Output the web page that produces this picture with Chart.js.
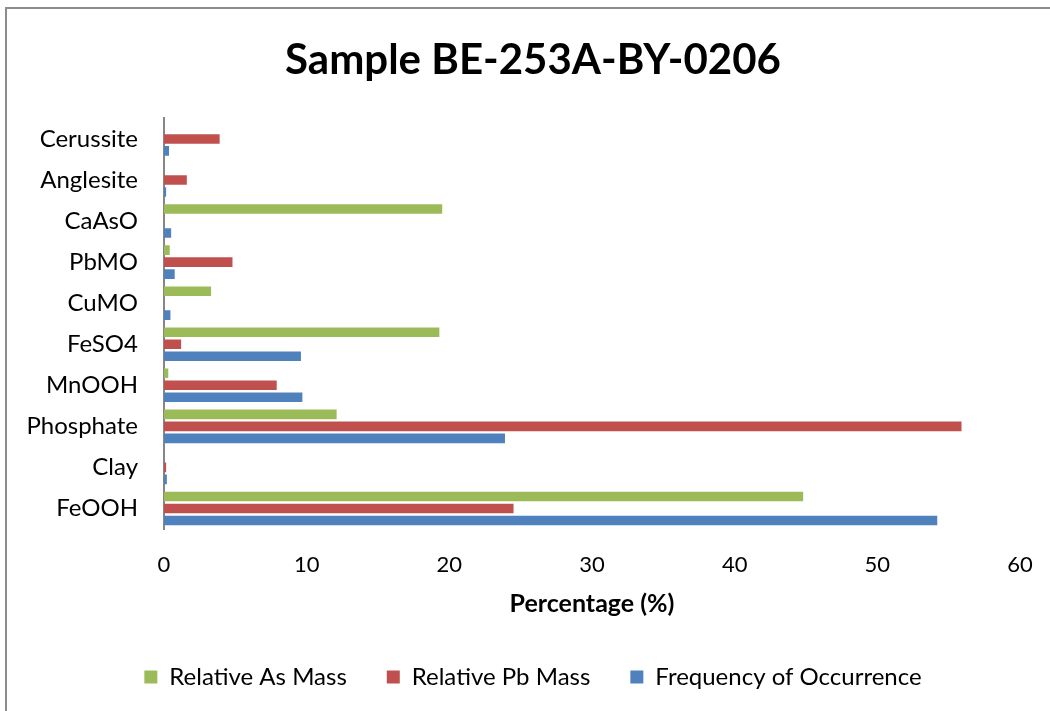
<!DOCTYPE html>
<html>
<head>
<meta charset="utf-8">
<script src="https://cdn.jsdelivr.net/npm/chart.js@4.4.1/dist/chart.umd.min.js"></script>
<style>
  html, body { margin: 0; padding: 0; background: #ffffff; }
  #wrap { width: 1050px; height: 711px; position: relative; }
</style>
</head>
<body>
<div id="wrap"><canvas id="chart" width="1050" height="711"></canvas></div>
<script>
// Mineral phases, listed top to bottom as they appear on the axis
const categories = ['Cerussite', 'Anglesite', 'CaAsO', 'PbMO', 'CuMO', 'FeSO4', 'MnOOH', 'Phosphate', 'Clay', 'FeOOH'];

// Percentages per phase
const relativeAsMass = [0, 0, 19.5, 0.4, 3.3, 19.3, 0.3, 12.1, 0, 44.8];
const relativePbMass = [3.9, 1.6, 0, 4.8, 0, 1.2, 7.9, 55.9, 0.15, 24.5];
const frequencyOfOccurrence = [0.35, 0.15, 0.5, 0.75, 0.45, 9.6, 9.7, 23.9, 0.2, 54.2];

const xTicks = [0, 10, 20, 30, 40, 50, 60];

const FONT = 'Lato, "Open Sans", sans-serif';

// White page with a grey frame around the chart
const framePlugin = {
  id: 'frame',
  beforeDraw(chart) {
    const ctx = chart.ctx;
    ctx.save();
    ctx.fillStyle = '#ffffff';
    ctx.fillRect(0, 0, chart.width, chart.height);
    ctx.strokeStyle = '#8c8c8c';
    ctx.lineWidth = 2;
    ctx.strokeRect(6, 8, chart.width + 20, chart.height + 20);
    ctx.restore();
  }
};

// Let the category labels extend into the left margin instead of being clipped
const labelRoomPlugin = {
  id: 'labelRoom',
  afterLayout(chart) {
    const y = chart.scales.y;
    y.left = 0;
    y.width = y.right;
  }
};

new Chart(document.getElementById('chart'), {
  type: 'bar',
  data: {
    labels: categories,
    datasets: [
      { label: 'Relative As Mass', data: relativeAsMass, backgroundColor: '#9BBB59' },
      { label: 'Relative Pb Mass', data: relativePbMass, backgroundColor: '#C0504D' },
      { label: 'Frequency of Occurrence', data: frequencyOfOccurrence, backgroundColor: '#4F81BD' }
    ]
  },
  options: {
    indexAxis: 'y',
    responsive: false,
    animation: false,
    devicePixelRatio: 1,
    categoryPercentage: 0.876,
    barPercentage: 0.8,
    layout: { padding: { left: 46, right: 30, top: 0, bottom: 12 } },
    plugins: {
      title: {
        display: true,
        text: 'Sample BE-253A-BY-0206',
        color: '#000000',
        font: { family: FONT, size: 42, weight: 'bold' },
        padding: { top: 35, bottom: 33 }
      },
      legend: {
        position: 'bottom',
        labels: {
          color: '#000000',
          font: { family: FONT, size: 24 },
          boxWidth: 13,
          boxHeight: 13,
          padding: 40
        }
      },
      tooltip: { enabled: false }
    },
    scales: {
      x: {
        type: 'linear',
        min: 0,
        max: 60,
        afterBuildTicks(scale) { scale.ticks = xTicks.map(v => ({ value: v })); },
        afterFit(scale) {
          scale.height = 96;
          scale.paddingLeft = 0;
          scale.paddingRight = 0;
        },
        grid: { display: false, drawTicks: false },
        border: { display: false },
        ticks: { color: '#000000', font: { family: FONT, size: 22 }, padding: 23 },
        title: {
          display: true,
          text: 'Percentage (%)',
          color: '#000000',
          font: { family: FONT, size: 25, weight: 'bold' },
          padding: { top: 6, bottom: 6 }
        }
      },
      y: {
        type: 'category',
        afterFit(scale) { scale.width = 118; },
        grid: { display: false, drawTicks: false },
        border: { display: true, color: '#868686', width: 2 },
        ticks: { color: '#000000', font: { family: FONT, size: 24 }, padding: 26 }
      }
    }
  },
  plugins: [framePlugin, labelRoomPlugin]
});
</script>
</body>
</html>
